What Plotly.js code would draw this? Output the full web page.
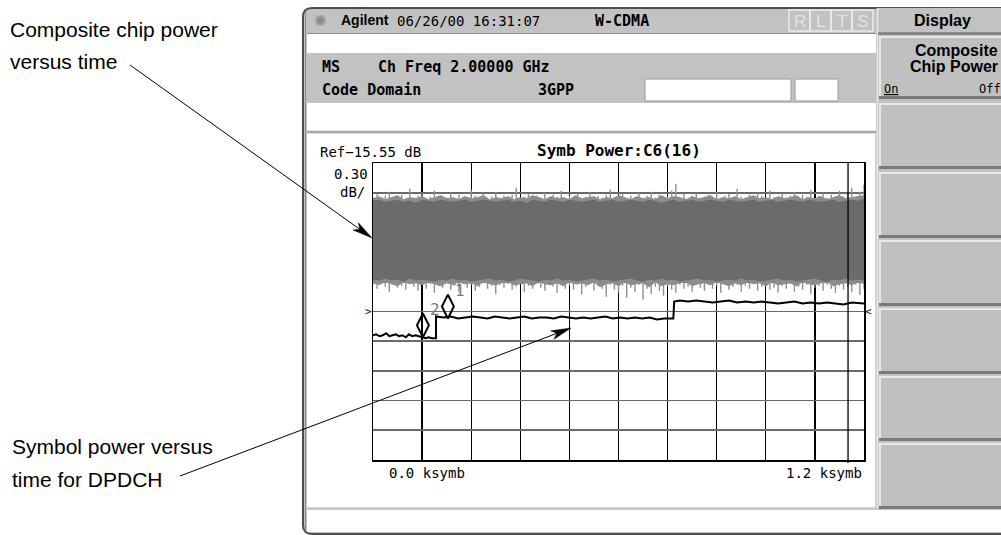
<!DOCTYPE html>
<html><head><meta charset="utf-8">
<script src="https://cdn.plot.ly/plotly-3.0.1.min.js"></script>
<style>html,body{margin:0;padding:0;background:#fff;}#chart{width:1001px;height:535px;}</style>
</head><body><div id="chart"></div>
<script>
// ---------------- data ----------------
const refLevelDb = -15.55;          // "Ref-15.55 dB"
const dbPerDiv = 0.30;              // "0.30 dB/"
const xSpanSymb = 1200;             // 0.0 .. 1.2 ksymb
const xTickLabels = ['0.0 ksymb', '1.2 ksymb'];

// composite chip power: solid core of the dense trace
const chipX = [0,15,30,45,60,75,90,105,120,135,150,165,180,195,210,225,240,255,270,285,300,315,330,345,360,375,390,405,420,435,450,465,480,495,510,525,540,555,570,585,600,615,630,645,660,675,690,705,720,735,750,765,780,795,810,825,840,855,870,885,900,915,930,945,960,975,990,1005,1020,1035,1050,1065,1080,1095,1110,1125,1140,1155,1170,1185,1200];
const chipCoreTop = [-15.94,-15.93,-15.95,-15.94,-15.93,-15.95,-15.94,-15.96,-15.93,-15.94,-15.95,-15.93,-15.94,-15.95,-15.94,-15.93,-15.95,-15.94,-15.93,-15.94,-15.95,-15.94,-15.93,-15.95,-15.94,-15.96,-15.93,-15.94,-15.95,-15.93,-15.94,-15.95,-15.93,-15.94,-15.95,-15.94,-15.93,-15.95,-15.94,-15.93,-15.95,-15.94,-15.93,-15.94,-15.95,-15.93,-15.94,-15.96,-15.94,-15.93,-15.95,-15.94,-15.93,-15.95,-15.94,-15.93,-15.94,-15.95,-15.93,-15.94,-15.95,-15.94,-15.93,-15.95,-15.94,-15.93,-15.95,-15.94,-15.93,-15.94,-15.95,-15.93,-15.94,-15.95,-15.94,-15.93,-15.95,-15.94,-15.93,-15.94,-15.92];
const chipCoreBottom = [-16.72,-16.73,-16.71,-16.73,-16.72,-16.74,-16.71,-16.73,-16.72,-16.73,-16.74,-16.72,-16.73,-16.71,-16.73,-16.72,-16.74,-16.73,-16.72,-16.71,-16.73,-16.72,-16.74,-16.73,-16.71,-16.72,-16.73,-16.74,-16.72,-16.73,-16.71,-16.73,-16.72,-16.74,-16.73,-16.72,-16.71,-16.73,-16.72,-16.74,-16.73,-16.72,-16.71,-16.73,-16.74,-16.72,-16.73,-16.71,-16.73,-16.72,-16.74,-16.73,-16.72,-16.71,-16.73,-16.72,-16.74,-16.73,-16.72,-16.73,-16.71,-16.73,-16.72,-16.74,-16.73,-16.72,-16.71,-16.73,-16.72,-16.74,-16.73,-16.72,-16.71,-16.73,-16.74,-16.72,-16.73,-16.71,-16.73,-16.72,-16.73];
// fuzzy fringe just outside the core
const chipFuzzTop = [-15.91,-15.89,-15.92,-15.90,-15.88,-15.92,-15.90,-15.91,-15.89,-15.92,-15.90,-15.88,-15.91,-15.90,-15.92,-15.89,-15.91,-15.90,-15.88,-15.92,-15.90,-15.91,-15.89,-15.92,-15.90,-15.91,-15.88,-15.90,-15.92,-15.89,-15.91,-15.90,-15.92,-15.88,-15.91,-15.90,-15.89,-15.92,-15.90,-15.91,-15.88,-15.90,-15.92,-15.89,-15.91,-15.90,-15.92,-15.88,-15.91,-15.89,-15.90,-15.92,-15.89,-15.91,-15.90,-15.88,-15.92,-15.90,-15.91,-15.89,-15.92,-15.90,-15.88,-15.91,-15.90,-15.92,-15.89,-15.91,-15.90,-15.88,-15.92,-15.90,-15.91,-15.89,-15.92,-15.90,-15.88,-15.91,-15.90,-15.89,-15.88];
const chipFuzzBottom = [-16.76,-16.78,-16.75,-16.77,-16.79,-16.75,-16.77,-16.76,-16.78,-16.75,-16.77,-16.79,-16.76,-16.78,-16.75,-16.77,-16.76,-16.79,-16.75,-16.77,-16.78,-16.76,-16.75,-16.78,-16.77,-16.76,-16.79,-16.75,-16.77,-16.78,-16.76,-16.79,-16.75,-16.77,-16.76,-16.78,-16.75,-16.80,-16.77,-16.76,-16.79,-16.75,-16.78,-16.77,-16.76,-16.80,-16.75,-16.79,-16.77,-16.78,-16.76,-16.75,-16.79,-16.77,-16.76,-16.78,-16.75,-16.77,-16.79,-16.76,-16.78,-16.75,-16.77,-16.76,-16.79,-16.75,-16.78,-16.77,-16.76,-16.79,-16.75,-16.77,-16.78,-16.76,-16.75,-16.79,-16.77,-16.76,-16.78,-16.75,-16.77];
// composite chip power: individual peaks above / dips below the core
const spikeX = [0,10,20,30,40,50,60,70,80,90,100,110,120,130,140,150,160,170,180,190,200,210,220,230,240,250,260,270,280,290,300,310,320,330,340,350,360,370,380,390,400,410,420,430,440,450,460,470,480,490,500,510,520,530,540,550,560,570,580,590,600,610,620,630,640,650,660,670,680,690,700,710,720,730,740,750,760,770,780,790,800,810,820,830,840,850,860,870,880,890,900,910,920,930,940,950,960,970,980,990,1000,1010,1020,1030,1040,1050,1060,1070,1080,1090,1100,1110,1120,1130,1140,1150,1160,1170,1180,1190,1200];
const spikeTop = [-15.90,-15.86,-15.91,-15.88,-15.84,-15.92,-15.89,-15.87,-15.91,-15.81,
  -15.90,-15.88,-15.86,-15.92,-15.89,-15.83,-15.91,-15.88,-15.90,-15.85,
  -15.92,-15.87,-15.89,-15.91,-15.82,-15.88,-15.90,-15.86,-15.92,-15.89,
  -15.84,-15.91,-15.88,-15.90,-15.87,-15.80,-15.92,-15.89,-15.86,-15.91,
  -15.88,-15.90,-15.85,-15.92,-15.87,-15.89,-15.83,-15.91,-15.88,-15.90,
  -15.86,-15.92,-15.89,-15.84,-15.91,-15.88,-15.90,-15.87,-15.82,-15.92,
  -15.89,-15.86,-15.91,-15.88,-15.90,-15.85,-15.92,-15.88,-15.84,-15.90,
  -15.87,-15.91,-15.89,-15.83,-15.76,-15.90,-15.86,-15.92,-15.88,-15.85,
  -15.91,-15.89,-15.87,-15.92,-15.84,-15.90,-15.88,-15.86,-15.91,-15.81,
  -15.89,-15.92,-15.87,-15.90,-15.85,-15.88,-15.91,-15.83,-15.89,-15.92,
  -15.86,-15.90,-15.88,-15.84,-15.91,-15.87,-15.89,-15.82,-15.92,-15.88,
  -15.85,-15.90,-15.87,-15.91,-15.83,-15.89,-15.86,-15.80,-15.90,-15.84,
  -15.77];
const spikeBottom = [-16.78,-16.82,-16.76,-16.80,-16.85,-16.77,-16.81,-16.79,-16.83,-16.76,
  -16.80,-16.84,-16.78,-16.82,-16.77,-16.86,-16.79,-16.81,-16.76,-16.83,
  -16.79,-16.85,-16.77,-16.81,-16.78,-16.84,-16.80,-16.76,-16.82,-16.79,
  -16.87,-16.78,-16.81,-16.77,-16.83,-16.80,-16.76,-16.85,-16.79,-16.82,
  -16.77,-16.81,-16.84,-16.78,-16.80,-16.86,-16.77,-16.82,-16.79,-16.83,
  -16.78,-16.88,-16.80,-16.77,-16.84,-16.79,-16.82,-16.90,-16.78,-16.83,
  -16.86,-16.79,-16.91,-16.81,-16.85,-16.78,-16.93,-16.82,-16.87,-16.80,
  -16.84,-16.89,-16.79,-16.83,-16.86,-16.78,-16.82,-16.80,-16.85,-16.77,
  -16.81,-16.84,-16.78,-16.82,-16.79,-16.86,-16.77,-16.83,-16.80,-16.78,
  -16.85,-16.79,-16.82,-16.77,-16.84,-16.80,-16.78,-16.83,-16.81,-16.86,
  -16.79,-16.82,-16.77,-16.85,-16.80,-16.83,-16.78,-16.87,-16.81,-16.79,
  -16.84,-16.78,-16.82,-16.86,-16.79,-16.83,-16.80,-16.85,-16.78,-16.88,
  -16.82];

// symbol power versus time for DPDCH
const symbX = [0,8,16,24,32,40,48,56,64,72,80,88,96,104,112,120,128,136,144,152,154,
  154,172,190,208,226,244,262,280,298,316,334,352,370,388,406,424,442,460,478,496,514,532,550,568,586,604,622,640,658,676,694,712,734,
  736,750,770,790,810,830,850,870,890,910,930,950,970,990,1010,1030,1050,1070,1090,1110,1130,1150,1170,1190,1200];
const symbY = [-17.29,-17.28,-17.30,-17.29,-17.27,-17.30,-17.29,-17.28,-17.30,-17.29,-17.31,-17.28,-17.30,-17.29,-17.30,-17.31,-17.32,-17.31,-17.32,-17.32,-17.32,
  -17.10,-17.11,-17.10,-17.12,-17.11,-17.10,-17.11,-17.12,-17.10,-17.11,-17.12,-17.11,-17.10,-17.12,-17.11,-17.11,-17.12,-17.10,-17.11,-17.12,-17.11,-17.12,-17.11,-17.10,-17.12,-17.11,-17.12,-17.11,-17.12,-17.11,-17.13,-17.12,-17.12,
  -16.95,-16.94,-16.95,-16.94,-16.95,-16.96,-16.95,-16.94,-16.96,-16.95,-16.96,-16.95,-16.96,-16.97,-16.96,-16.95,-16.97,-16.96,-16.97,-16.96,-16.97,-16.98,-16.96,-16.97,-16.97];

const markerNames = ['1', '2'];
const markerX = [183, 122];
const markerY = [-17.00, -17.19];
const cursorX = [1161];
const refArrowY = [-17.055];

// ---------------- geometry helpers (pixel -> paper) ----------------
const PL = 373, PR = 864, PT = 163, PB = 460;
const fx = x => (x - PL) / (PR - PL);
const fy = y => (PB - y) / (PB - PT);
const MONO = 'DejaVu Sans Mono, Liberation Mono, monospace';
const SANS = 'Liberation Sans, Arial, sans-serif';

const shapes = [];
const ann = [];
function rect(x0, y0, x1, y1, fill, lc, lw, layer) {
  shapes.push({type:'rect', xref:'paper', yref:'paper', x0:fx(x0), x1:fx(x1), y0:fy(y1), y1:fy(y0),
    fillcolor:fill, line:{color:lc || 'rgba(0,0,0,0)', width:lw || 0}, layer:layer || 'below'});
}
function seg(x0, y0, x1, y1, color, w, layer) {
  shapes.push({type:'line', xref:'paper', yref:'paper', x0:fx(x0), x1:fx(x1), y0:fy(y0), y1:fy(y1),
    line:{color:color, width:w}, layer:layer || 'below'});
}
function txt(x, y, text, size, opts) {
  opts = opts || {};
  ann.push({xref:'paper', yref:'paper', x:fx(x), y:fy(y), text:text, showarrow:false,
    xanchor:opts.anchor || 'left', yanchor:'middle',
    font:{family:opts.family || MONO, size:size, color:opts.color || '#000'}});
}
function P(x, y) { return fx(x).toFixed(5) + ',' + fy(y).toFixed(5); }
function arrow(sx, sy, tx, ty) {
  const dx = tx - sx, dy = ty - sy, len = Math.hypot(dx, dy);
  const ux = dx / len, uy = dy / len, nx = -uy, ny = ux;
  const Lh = 20, hw = 4.5, notch = 5;
  const bx = tx - ux * Lh, by = ty - uy * Lh;
  seg(sx, sy, tx - ux * (Lh - notch), ty - uy * (Lh - notch), '#000', 1, 'above');
  shapes.push({type:'path', xref:'paper', yref:'paper', layer:'above', fillcolor:'#000',
    line:{color:'#000', width:0.5},
    path:'M' + P(tx, ty) + 'L' + P(bx + nx * hw, by + ny * hw) + 'L' + P(tx - ux * (Lh - notch), ty - uy * (Lh - notch)) +
      'L' + P(bx - nx * hw, by - ny * hw) + 'Z'});
}

// ---------------- instrument frame ----------------
shapes.push({type:'path', xref:'paper', yref:'paper', layer:'below', fillcolor:'#c2c2c2',
  line:{color:'#4d4d4d', width:2},
  path:'M' + P(303, 17) + 'Q' + P(303, 8) + ' ' + P(312, 8) + 'L' + P(1010, 8) + 'L' + P(1010, 534) +
    'L' + P(312, 534) + 'Q' + P(303, 534) + ' ' + P(303, 525) + 'Z'});
rect(307, 34, 876, 53, '#ffffff');
seg(307, 33.5, 876, 33.5, '#8a8a8a', 1);
rect(307, 103, 876, 131, '#ffffff');
seg(307, 132, 876, 132, '#a8a8a8', 2.5);
rect(307, 133.5, 876, 507.5, '#ffffff');
seg(876, 133, 876, 508, '#cfcfcf', 2);
seg(307, 508.5, 1001, 508.5, '#c8c8c8', 2);
rect(307, 510, 1003, 532, '#ffffff');
seg(305.5, 12, 305.5, 531, '#8a8a8a', 1);
rect(645, 79, 791, 101, '#ffffff', '#9a9a9a', 1);
rect(795, 79, 838, 101, '#ffffff', '#9a9a9a', 1);
['R', 'L', 'T', 'S'].forEach((c, i) => {
  const x0 = 789 + i * 21;
  rect(x0, 10, x0 + 21, 31, 'rgba(0,0,0,0)', '#ececec', 1.4);
  txt(x0 + 10.5, 21, c, 17, {anchor:'center', family:SANS, color:'#e4e4e4'});
});

// softkey column
rect(877, 8, 1003, 508, '#c2c2c2');
seg(877.5, 8, 877.5, 508, '#e6e6e6', 1.5);
seg(878, 33.5, 1003, 33.5, '#7c7c7c', 2.5);
const keyTops = [36, 103, 172, 240, 308, 376, 443];
const keyBots = [99, 169, 238, 306, 374, 441, 509];
keyTops.forEach((t, i) => {
  const b = keyBots[i];
  rect(879, t, 1003, b, '#c0c0c0');
  seg(879, t + 1, 1003, t + 1, '#e8e8e8', 2);
  seg(880, t, 880, b - 2, '#e8e8e8', 2);
  seg(879, b - 1.5, 1003, b - 1.5, '#7a7a7a', 3);
});

// ---------------- texts ----------------
txt(312, 21, '\u273A', 15, {family:'DejaVu Sans', color:'#8c8c8c'});
txt(339, 20, '<b>Agilent</b>', 14, {family:SANS});
txt(395, 21, '06/26/00 16:31:07', 14);
txt(593, 21, '<b>W-CDMA</b>', 15);
txt(942, 20, '<b>Display</b>', 16, {anchor:'center', family:SANS});
txt(1000, 51, '<b>Composite</b>', 16, {anchor:'right', family:SANS});
txt(1000, 66, '<b>Chip Power</b>', 16, {anchor:'right', family:SANS});
txt(882, 89, '<u>On</u>', 12);
txt(1003, 89, 'Off', 12, {anchor:'right'});
txt(320, 67, '<b>MS</b>', 15);
txt(376, 67, '<b>Ch Freq 2.00000 GHz</b>', 15);
txt(320, 90, '<b>Code Domain</b>', 15);
txt(536, 90, '<b>3GPP</b>', 15);

txt(318, 152, 'Ref\u221215.55 dB', 14);
txt(535, 150, '<b>Symb Power:C6(16)</b>', 16);
txt(370, 174, dbPerDiv.toFixed(2), 14, {anchor:'right'});
txt(367, 192, 'dB/', 14, {anchor:'right'});
txt(387, 473, xTickLabels[0], 14);
txt(864, 473, xTickLabels[1], 14, {anchor:'right'});

txt(8, 30, 'Composite chip power', 21, {family:SANS});
txt(8, 61, 'versus time', 21, {family:SANS});
txt(10, 446, 'Symbol power versus', 21, {family:SANS});
txt(10, 479, 'time for DPDCH', 21, {family:SANS});
arrow(130, 65, 372, 238);
arrow(180, 476, 571, 328);

markerNames.forEach((n, i) => {
  ann.push({xref:'x', yref:'y', x:markerX[i], y:markerY[i], text:n, showarrow:false,
    xanchor:'left', yanchor:'middle', xshift:5, yshift:16,
    font:{family:MONO, size:16, color:'#7a7a7a'}});
});
ann.push({xref:'x', yref:'y', x:0, y:refArrowY[0], text:'>', showarrow:false, xanchor:'right', yanchor:'middle',
  xshift:1, font:{family:MONO, size:11, color:'#000'}});
ann.push({xref:'x', yref:'y', x:xSpanSymb, y:refArrowY[0], text:'<', showarrow:false, xanchor:'left', yanchor:'middle',
  xshift:-1, font:{family:MONO, size:11, color:'#000'}});

cursorX.forEach(cx => shapes.push({type:'line', xref:'x', yref:'paper', x0:cx, x1:cx, y0:-0.01, y1:1,
  line:{color:'#000', width:1.3}, layer:'above'}));

// ---------------- traces ----------------
const coreMid = (chipCoreTop[0] + chipCoreBottom[0]) / 2;
const spTopX = [], spTopY = [], spBotX = [], spBotY = [];
spikeX.forEach((x, i) => {
  spTopX.push(x, x, null); spTopY.push(coreMid, spikeTop[i], null);
  spBotX.push(x, x, null); spBotY.push(coreMid, spikeBottom[i], null);
});

const traces = [
  {x:chipX, y:chipFuzzBottom, mode:'lines', line:{color:'#8c8c8c', width:1}, hoverinfo:'skip'},
  {x:chipX, y:chipFuzzTop, mode:'lines', line:{color:'#8c8c8c', width:1}, fill:'tonexty', fillcolor:'#8c8c8c', hoverinfo:'skip'},
  {x:spTopX, y:spTopY, mode:'lines', line:{color:'#8e8e8e', width:1.4}, hoverinfo:'skip'},
  {x:spBotX, y:spBotY, mode:'lines', line:{color:'#8e8e8e', width:1.4}, hoverinfo:'skip'},
  {x:chipX, y:chipCoreBottom, mode:'lines', line:{color:'#6b6b6b', width:1.5}, hoverinfo:'skip'},
  {x:chipX, y:chipCoreTop, mode:'lines', line:{color:'#6b6b6b', width:1.5}, fill:'tonexty', fillcolor:'#6b6b6b', hoverinfo:'skip'},
  {x:symbX, y:symbY, mode:'lines', line:{color:'#000', width:2}, hoverinfo:'skip'},
  {x:markerX, y:markerY, mode:'markers', marker:{symbol:'diamond-tall-open', size:17, color:'#000', line:{width:2, color:'#000'}}, hoverinfo:'skip'}
];

const layout = {
  width:1001, height:535, autosize:false,
  margin:{l:PL, r:1001 - PR, t:PT, b:535 - PB, pad:0},
  paper_bgcolor:'#ffffff', plot_bgcolor:'rgba(0,0,0,0)', showlegend:false,
  xaxis:{range:[0, xSpanSymb], tick0:0, dtick:xSpanSymb / 10, showgrid:true, gridcolor:'#000', gridwidth:1.3,
    showline:true, mirror:true, linecolor:'#000', linewidth:1.5, showticklabels:false, ticks:'', zeroline:false, fixedrange:true},
  yaxis:{range:[refLevelDb - 10 * dbPerDiv, refLevelDb], tick0:refLevelDb, dtick:dbPerDiv, showgrid:true, gridcolor:'#6a6a6a', gridwidth:1.6,
    showline:true, mirror:true, linecolor:'#000', linewidth:1.5, showticklabels:false, ticks:'', zeroline:false, fixedrange:true},
  shapes:shapes, annotations:ann
};
Plotly.newPlot('chart', traces, layout, {staticPlot:true, displayModeBar:false});
</script></body></html>
